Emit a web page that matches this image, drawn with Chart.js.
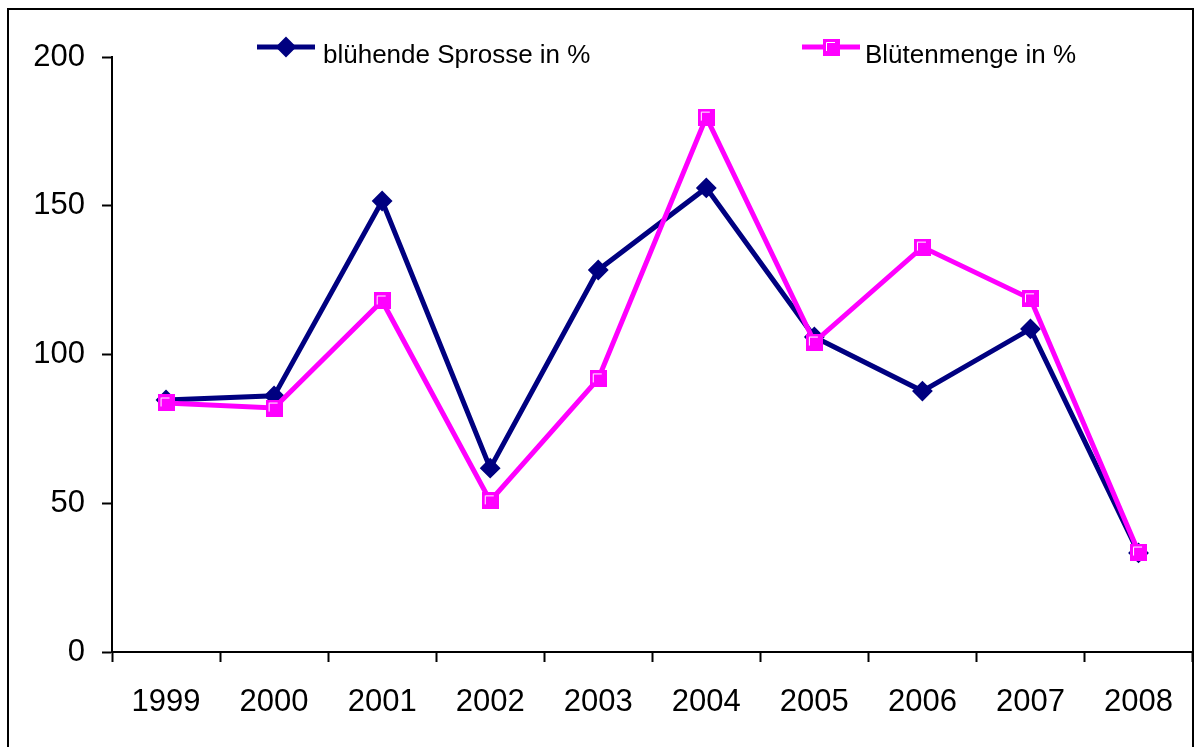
<!DOCTYPE html>
<html>
<head>
<meta charset="utf-8">
<script src="https://cdn.jsdelivr.net/npm/chart.js@4/dist/chart.umd.min.js"></script>
<style>
  html, body { margin: 0; padding: 0; background: #ffffff; }
  #wrap { width: 1195px; height: 747px; position: relative; }
</style>
</head>
<body>
<div id="wrap"><canvas id="c" width="1195" height="747"></canvas></div>
<script>
// Years on the category axis
const years = ['1999', '2000', '2001', '2002', '2003', '2004', '2005', '2006', '2007', '2008'];

// Flowering shoots, percent
const bluehendeSprosse = [84.7, 86.1, 151.6, 61.8, 128.4, 156.0, 105.9, 87.7, 108.6, 33.3];

// Amount of blossoms, percent
const bluetenmenge = [83.7, 82.0, 118.0, 50.8, 91.8, 179.8, 104.2, 136.1, 118.7, 33.6];

// Value axis ticks
const yTicks = [0, 50, 100, 150, 200];

const seriesLabels = ['blühende Sprosse in %', 'Blütenmenge in %'];

const NAVY = '#000080';
const MAGENTA = '#FF00FF';
const FONT = '"Liberation Sans", Arial, sans-serif';

// Square marker with a thin white highlight on its top-left inner edge
function squareMarker(size) {
  const c = document.createElement('canvas');
  c.width = size; c.height = size;
  const g = c.getContext('2d');
  g.fillStyle = MAGENTA;
  g.fillRect(0, 0, size, size);
  g.strokeStyle = '#ffffff';
  g.lineWidth = 1;
  g.beginPath();
  g.moveTo(3.5, size - 5);
  g.lineTo(3.5, 3.5);
  g.lineTo(size - 5, 3.5);
  g.stroke();
  return c;
}
const pinkSquare = squareMarker(17);

// Legend entries: a short line with the series marker in its middle
const legendPlugin = {
  id: 'lineLegend',
  afterDraw(chart, args, opts) {
    const ctx = chart.ctx;
    opts.items.forEach((it, i) => {
      const ds = chart.data.datasets[i];
      ctx.save();
      ctx.strokeStyle = ds.borderColor;
      ctx.lineWidth = 5;
      ctx.beginPath();
      ctx.moveTo(it.x, it.y);
      ctx.lineTo(it.x + it.len, it.y);
      ctx.stroke();
      const cx = it.x + it.len / 2;
      if (ds.pointStyle === 'rectRot') {
        ctx.fillStyle = ds.pointBackgroundColor;
        ctx.strokeStyle = ds.pointBorderColor;
        ctx.lineWidth = ds.pointBorderWidth;
        ctx.beginPath();
        const r = ds.pointRadius;
        ctx.moveTo(cx, it.y - r);
        ctx.lineTo(cx + r, it.y);
        ctx.lineTo(cx, it.y + r);
        ctx.lineTo(cx - r, it.y);
        ctx.closePath();
        ctx.fill();
        ctx.stroke();
      } else {
        const img = ds.pointStyle;
        ctx.drawImage(img, Math.round(cx - img.width / 2), Math.round(it.y - img.height / 2));
      }
      ctx.fillStyle = '#000000';
      ctx.font = '26px ' + FONT;
      ctx.textAlign = 'left';
      ctx.textBaseline = 'alphabetic';
      ctx.fillText(seriesLabels[i], it.textX, it.baseline);
      ctx.restore();
    });
  }
};

// Outer frame around the figure (open at the bottom)
const framePlugin = {
  id: 'frame',
  afterDraw(chart) {
    const ctx = chart.ctx;
    ctx.save();
    ctx.strokeStyle = '#000000';
    ctx.lineWidth = 2;
    ctx.beginPath();
    ctx.moveTo(8, 747);
    ctx.lineTo(8, 9);
    ctx.lineTo(1193, 9);
    ctx.lineTo(1193, 747);
    ctx.stroke();
    ctx.restore();
  }
};

new Chart(document.getElementById('c'), {
  type: 'line',
  data: {
    labels: years,
    datasets: [
      {
        label: seriesLabels[0],
        data: bluehendeSprosse,
        borderColor: NAVY,
        backgroundColor: NAVY,
        borderWidth: 5,
        tension: 0,
        pointStyle: 'rectRot',
        pointRadius: 9,
        pointBorderWidth: 2,
        pointBackgroundColor: NAVY,
        pointBorderColor: NAVY,
        order: 1
      },
      {
        label: seriesLabels[1],
        data: bluetenmenge,
        borderColor: MAGENTA,
        backgroundColor: MAGENTA,
        borderWidth: 5,
        tension: 0,
        pointStyle: pinkSquare,
        pointRadius: 9,
        pointBorderWidth: 0,
        order: 0
      }
    ]
  },
  options: {
    responsive: false,
    animation: false,
    layout: { autoPadding: false, padding: { top: 57, right: -6, left: 0, bottom: 0 } },
    plugins: {
      legend: { display: false },
      tooltip: { enabled: false },
      lineLegend: {
        items: [
          { x: 257, y: 47, len: 58, textX: 323, baseline: 63 },
          { x: 802, y: 47, len: 58, textX: 865, baseline: 63 }
        ]
      }
    },
    scales: {
      x: {
        type: 'category',
        offset: true,
        grid: {
          display: true,
          offset: true,
          drawOnChartArea: false,
          drawTicks: true,
          tickLength: 10,
          tickWidth: 2,
          tickColor: '#000000'
        },
        border: { display: true, color: '#000000', width: 2 },
        ticks: {
          color: '#000000',
          font: { family: FONT, size: 31 },
          padding: 22,
          maxRotation: 0,
          autoSkip: false
        },
        afterFit(s) { s.height = 95; }
      },
      y: {
        min: 0,
        max: 200,
        afterBuildTicks(s) { s.ticks = yTicks.map(v => ({ value: v })); },
        grid: {
          display: true,
          drawOnChartArea: false,
          drawTicks: true,
          tickLength: 10,
          tickWidth: 2,
          tickColor: '#000000'
        },
        border: { display: true, color: '#000000', width: 2 },
        ticks: {
          color: '#000000',
          font: { family: FONT, size: 31 },
          padding: 17
        },
        afterFit(s) { s.width = 112; }
      }
    }
  },
  plugins: [legendPlugin, framePlugin]
});
</script>
</body>
</html>
